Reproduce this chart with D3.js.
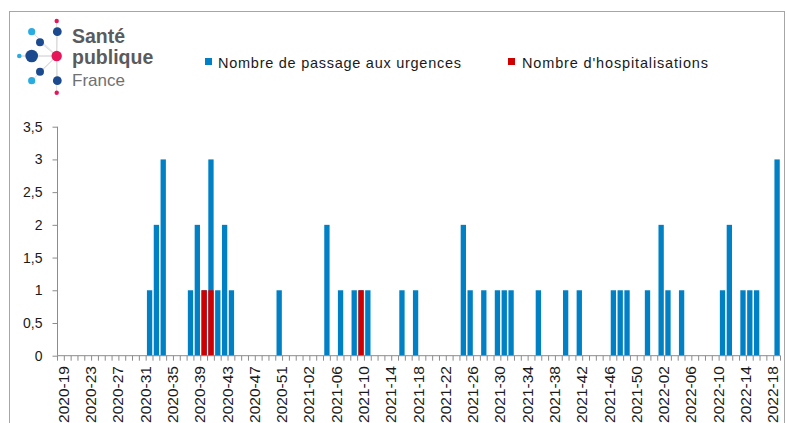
<!DOCTYPE html>
<html><head><meta charset="utf-8">
<script src="https://cdn.jsdelivr.net/npm/d3@7"></script>
<style>html,body{margin:0;padding:0;background:#fff;}svg{display:block;}</style>
</head><body>
<script>
// ---- DATA ----
const categories = [
"2020-19","2020-20","2020-21","2020-22","2020-23","2020-24","2020-25","2020-26","2020-27","2020-28","2020-29","2020-30","2020-31","2020-32","2020-33","2020-34","2020-35","2020-36","2020-37","2020-38","2020-39","2020-40","2020-41","2020-42","2020-43","2020-44","2020-45","2020-46","2020-47","2020-48","2020-49","2020-50","2020-51","2020-52","2020-53",
"2021-01","2021-02","2021-03","2021-04","2021-05","2021-06","2021-07","2021-08","2021-09","2021-10","2021-11","2021-12","2021-13","2021-14","2021-15","2021-16","2021-17","2021-18","2021-19","2021-20","2021-21","2021-22","2021-23","2021-24","2021-25","2021-26","2021-27","2021-28","2021-29","2021-30","2021-31","2021-32","2021-33","2021-34","2021-35","2021-36","2021-37","2021-38","2021-39","2021-40","2021-41","2021-42","2021-43","2021-44","2021-45","2021-46","2021-47","2021-48","2021-49","2021-50","2021-51","2021-52",
"2022-01","2022-02","2022-03","2022-04","2022-05","2022-06","2022-07","2022-08","2022-09","2022-10","2022-11","2022-12","2022-13","2022-14","2022-15","2022-16","2022-17","2022-18","2022-19"];
const passageWeeks = ["2020-32","2020-33","2020-34","2020-38","2020-39","2020-40","2020-41","2020-42","2020-43","2020-44","2020-51",
"2021-05","2021-07","2021-09","2021-10","2021-11","2021-16","2021-18","2021-25","2021-26","2021-28","2021-30","2021-31","2021-32","2021-36","2021-40","2021-42","2021-47","2021-48","2021-49","2021-52",
"2022-02","2022-03","2022-05","2022-11","2022-12","2022-14","2022-15","2022-16","2022-19"];
const passageValues = [1,2,3,1,2,1,3,1,2,1,1,
2,1,1,1,1,1,1,2,1,1,1,1,1,1,1,1,1,1,1,1,
2,1,1,1,2,1,1,1,3];
const hospWeeks = ["2020-40","2020-41","2021-10"];
const hospValues = [1,1,1];
const tickLabels = categories.filter((c,i)=> i % 4 === 0);
const yTicks = [0,0.5,1,1.5,2,2.5,3,3.5];
const seriesNames = ["Nombre de passage aux urgences","Nombre d'hospitalisations"];

// ---- CHART ----
const W=787,H=423;
const svg=d3.select("body").append("svg").attr("width",W).attr("height",H);
const BLUE="#0081c6", RED="#d10000";
const FONT="'Liberation Sans', Arial, sans-serif";

// outer frame
svg.append("rect").attr("x",9.5).attr("y",11.5).attr("width",775).attr("height",430)
  .attr("fill","none").attr("stroke","#a6a6a6").attr("stroke-width",1);

const x=d3.scaleBand().domain(categories).range([57.5,780.5]).paddingInner(0.22).paddingOuter(0.11);
const y=d3.scaleLinear().domain([0,3.5]).range([355.7,126.7]);
const step=x.step();

// bars
const passData=passageWeeks.map((w,i)=>({w,v:passageValues[i]}));
const hospData=hospWeeks.map((w,i)=>({w,v:hospValues[i]}));
svg.append("g").selectAll("rect").data(passData).join("rect")
  .attr("x",d=>x(d.w)).attr("width",x.bandwidth())
  .attr("y",d=>y(d.v)).attr("height",d=>y(0)-y(d.v)).attr("fill",BLUE);
svg.append("g").selectAll("rect").data(hospData).join("rect")
  .attr("x",d=>x(d.w)).attr("width",x.bandwidth())
  .attr("y",d=>y(d.v)).attr("height",d=>y(0)-y(d.v)).attr("fill",RED);

// y axis
const yAxis=d3.axisLeft(y).tickValues(yTicks).tickSize(5).tickPadding(10)
  .tickFormat(d=>String(d).replace(".",","));
const gy=svg.append("g").attr("transform","translate(57.5,0)").call(yAxis);
gy.select(".domain").attr("stroke","#8c8c8c").attr("d","M0,126.7V355.7");
gy.selectAll(".tick line").attr("stroke","#8c8c8c");
gy.selectAll("text").attr("font-family",FONT).attr("font-size",14).attr("fill","#1a1a1a");

// x axis line + boundary ticks
const gx=svg.append("g");
gx.append("line").attr("x1",57.5).attr("x2",780.5).attr("y1",355.7).attr("y2",355.7).attr("stroke","#8c8c8c");
const bounds=categories.map(c=>x(c)-step*0.11).concat([x(categories[categories.length-1])-step*0.11+step]);
gx.selectAll("line.tk").data(bounds).join("line").attr("class","tk")
  .attr("x1",d=>d).attr("x2",d=>d).attr("y1",355.7).attr("y2",360.7).attr("stroke","#8c8c8c");
gx.selectAll("text").data(tickLabels).join("text")
  .attr("transform",d=>`translate(${x(d)+x.bandwidth()/2+2.5},366) rotate(-90)`)
  .attr("text-anchor","end").attr("dy","0.35em")
  .attr("font-family",FONT).attr("font-size",15.5).attr("fill","#1a1a1a").text(d=>d);

// legend
const leg=svg.append("g");
leg.append("rect").attr("x",205).attr("y",58).attr("width",7).attr("height",7).attr("fill",BLUE);
leg.append("text").attr("x",218).attr("y",67.5).attr("font-family",FONT).attr("font-size",14.5)
  .attr("fill","#1a1a1a").attr("textLength",243).attr("lengthAdjust","spacing").text(seriesNames[0]);
leg.append("rect").attr("x",508).attr("y",58).attr("width",7).attr("height",7).attr("fill",RED);
leg.append("text").attr("x",522).attr("y",67.5).attr("font-family",FONT).attr("font-size",14.5)
  .attr("fill","#1a1a1a").attr("textLength",186).attr("lengthAdjust","spacing").text(seriesNames[1]);

// logo
const logo=svg.append("g");
const center=[56.7,56];
const dots=[
 {x:56.7,y:21,r:2.2,c:"#e5175a"},
 {x:57.3,y:31.7,r:4.4,c:"#1c4a8f"},
 {x:31.7,y:31.7,r:3.6,c:"#2aace2"},
 {x:40,y:42.3,r:4,c:"#1c4a8f"},
 {x:31.7,y:56,r:6.3,c:"#1c4a8f"},
 {x:19.3,y:56,r:2.3,c:"#2aace2"},
 {x:40,y:71.7,r:4,c:"#1c4a8f"},
 {x:31.7,y:80.7,r:3.6,c:"#2aace2"},
 {x:57.3,y:80.7,r:4.4,c:"#1c4a8f"},
 {x:56.7,y:92.7,r:2.2,c:"#e5175a"}
];
logo.selectAll("line").data(dots).join("line")
  .attr("x1",center[0]).attr("y1",center[1]).attr("x2",d=>d.x).attr("y2",d=>d.y)
  .attr("stroke","#dcdcdc").attr("stroke-width",1);
logo.append("line").attr("x1",19.3).attr("y1",56).attr("x2",31.7).attr("y2",56).attr("stroke","#dcdcdc");
logo.selectAll("circle.d").data(dots).join("circle").attr("class","d")
  .attr("cx",d=>d.x).attr("cy",d=>d.y).attr("r",d=>d.r).attr("fill",d=>d.c);
logo.append("circle").attr("cx",center[0]).attr("cy",center[1]).attr("r",5.2).attr("fill","#e5175a");
logo.append("text").attr("x",72).attr("y",43).attr("font-family",FONT).attr("font-weight","bold")
  .attr("font-size",19.5).attr("fill","#5a5b5d").text("Santé");
logo.append("text").attr("x",72).attr("y",63.5).attr("font-family",FONT).attr("font-weight","bold")
  .attr("font-size",19.5).attr("fill","#5a5b5d").text("publique");
logo.append("text").attr("x",72).attr("y",86).attr("font-family",FONT)
  .attr("font-size",17).attr("fill","#6f7072").text("France");
</script>
</body></html>
